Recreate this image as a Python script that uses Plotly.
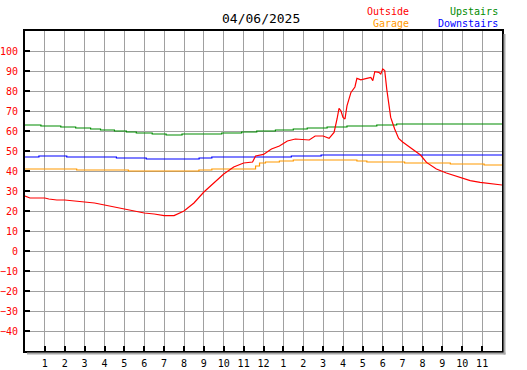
import plotly.graph_objects as go

# ---- data ----
hour_labels = ["1", "2", "3", "4", "5", "6", "7", "8", "9", "10", "11", "12",
               "1", "2", "3", "4", "5", "6", "7", "8", "9", "10", "11"]
hour_ticks = list(range(1, 24))
y_ticks = list(range(-40, 101, 10))

outside_h = [0, 0.25, 1.0, 1.2, 1.6, 2.0, 2.5, 3.0, 3.5, 4.0, 4.5, 5.0, 5.5, 6.0, 6.5,
             7.0, 7.5, 7.8, 8.0, 8.5, 9.0, 9.5, 10.0, 10.5, 11.0, 11.45, 11.6, 12.0,
             12.4, 12.8, 13.2, 13.6, 14.0, 14.3, 14.6, 15.0, 15.3, 15.55, 15.7, 15.8,
             15.9, 16.0, 16.1, 16.2, 16.4, 16.6, 16.7, 16.9, 17.2, 17.4, 17.5, 17.6,
             17.8, 17.9, 18.0, 18.1, 18.2, 18.3, 18.4, 18.6, 18.8, 19.0, 19.4, 19.9,
             20.2, 20.7, 21.2, 21.9, 22.4, 22.9, 23.6, 24.0]
outside_v = [27.5, 26.5, 26.5, 26, 25.5, 25.5, 25, 24.5, 24, 23, 22, 21, 20, 19, 18.5,
             17.7, 17.7, 19, 20, 24, 29.5, 34, 38.5, 42, 44, 44.5, 47.5, 48.3,
             51, 52.5, 55, 56, 55.5, 55.5, 57.5, 57.5, 56.3, 59.3, 66, 71.3,
             70, 66.8, 66, 72.6, 79.3, 82, 86.3, 85.6, 86.3, 86.8, 85.2, 89.7,
             89.3, 88.5, 91, 90.2, 81, 72.6, 66.8, 61, 56.3, 54.5, 51.8, 48,
             44.3, 41, 39, 36.8, 35.2, 34.3, 33.5, 33]

upstairs_h = [0, 0.8, 1.8, 2.55, 3.3, 3.8, 4.5, 5.1, 5.6, 6.4, 7.1, 7.9, 9.9, 10.9,
              11.66, 12.6, 13.5, 14.2, 15.2, 16.2, 17.7, 18.7, 24]
upstairs_v = [63, 62.5, 62, 61.5, 61, 60.5, 60, 59.5, 59, 58.5, 58, 58.5, 59, 59.5,
              60, 60.5, 61, 61.5, 62, 62.5, 63, 63.5, 63.5]

downstairs_h = [0, 0.7, 2.1, 4.6, 6.1, 8.76, 9.4, 13.4, 14.9, 24]
downstairs_v = [47, 47.5, 47, 46.5, 46, 46.5, 47, 47.5, 48, 48]

garage_h = [0, 2.6, 3.35, 5.2, 8.75, 9.4, 11.6, 11.8, 12.1, 12.8, 13.5, 16.7, 17.2,
            19.1, 21.4, 23.1, 24]
garage_v = [41, 40.5, 40.5, 40, 40.5, 41, 42.5, 44, 44.5, 45, 45.5, 45, 44.5,
            44, 43.5, 43, 43]

title_text = "04/06/2025"

# ---- figure ----
MONO = "DejaVu Sans Mono"
C_OUT, C_GAR, C_UP, C_DOWN = "#ff0000", "#ff9900", "#008c00", "#0000ff"
fig = go.Figure()
fig.add_trace(go.Scatter(x=upstairs_h, y=upstairs_v, mode="lines", line_shape="hv",
                         line=dict(color=C_UP, width=1.2), name="Upstairs"))
fig.add_trace(go.Scatter(x=downstairs_h, y=downstairs_v, mode="lines", line_shape="hv",
                         line=dict(color=C_DOWN, width=1.2), name="Downstairs"))
fig.add_trace(go.Scatter(x=garage_h, y=garage_v, mode="lines", line_shape="hv",
                         line=dict(color=C_GAR, width=1.2), name="Garage"))
fig.add_trace(go.Scatter(x=outside_h, y=outside_v, mode="lines",
                         line=dict(color=C_OUT, width=1.2), name="Outside"))

W, H = 527, 370
L, R, T, B = 25, 25, 31, 19
pw, ph = W - L - R, H - T - B

fig.update_layout(
    width=W, height=H,
    margin=dict(l=L, r=R, t=T, b=B, pad=0, autoexpand=False),
    paper_bgcolor="white", plot_bgcolor="white",
    showlegend=False, hovermode=False,
    font=dict(family=MONO, size=10, color="black"),
    xaxis=dict(range=[0, 24], tickvals=hour_ticks, ticktext=hour_labels,
               ticks="inside", ticklen=5, tickwidth=2, tickcolor="black",
               ticklabelstandoff=2,
               showgrid=True, gridcolor="#a0a0a0", gridwidth=1,
               showline=True, linecolor="black", linewidth=2, mirror=True,
               zeroline=False, automargin=False,
               tickfont=dict(family=MONO, size=10, color="black"),
               fixedrange=True),
    yaxis=dict(range=[-50, 110], tickvals=y_ticks,
               ticks="inside", ticklen=5, tickwidth=2, tickcolor="black",
               ticklabelstandoff=3,
               showgrid=True, gridcolor="#a0a0a0", gridwidth=1,
               showline=True, linecolor="black", linewidth=2, mirror=True,
               zeroline=False, automargin=False,
               tickfont=dict(family=MONO, size=10, color=C_OUT),
               fixedrange=True),
)

# drop shadow of the frame
shadow = "#a8a8a8"
fig.add_shape(type="rect", xref="paper", yref="paper",
              x0=1 + 1.5 / pw, x1=1 + 3.5 / pw, y0=-3.5 / ph, y1=1 - 3 / ph,
              fillcolor=shadow, line=dict(width=0), layer="above")
fig.add_shape(type="rect", xref="paper", yref="paper",
              x0=2 / pw, x1=1 + 3.5 / pw, y0=-3.5 / ph, y1=-1.5 / ph,
              fillcolor=shadow, line=dict(width=0), layer="above")

def px_x(x):
    return (x - L) / pw

def px_y(y):
    return (H - B - y) / ph

fig.add_annotation(text=title_text, xref="paper", yref="paper",
                   x=px_x(261), y=px_y(19), xanchor="center", yanchor="middle",
                   showarrow=False, font=dict(family=MONO, size=13, color="black"))
legend_items = [("Outside", C_OUT, 411, 11), ("Garage", C_GAR, 411, 23),
                ("Upstairs", C_UP, 500, 11), ("Downstairs", C_DOWN, 500, 23)]
for txt, col, xr, yc in legend_items:
    fig.add_annotation(text=txt, xref="paper", yref="paper",
                       x=px_x(xr), y=px_y(yc), xanchor="right", yanchor="middle",
                       showarrow=False, font=dict(family=MONO, size=10, color=col))

fig.write_html("out.html", config={"displayModeBar": False, "staticPlot": True},
               post_script="document.body.style.margin='0';document.body.style.overflow='hidden';")
